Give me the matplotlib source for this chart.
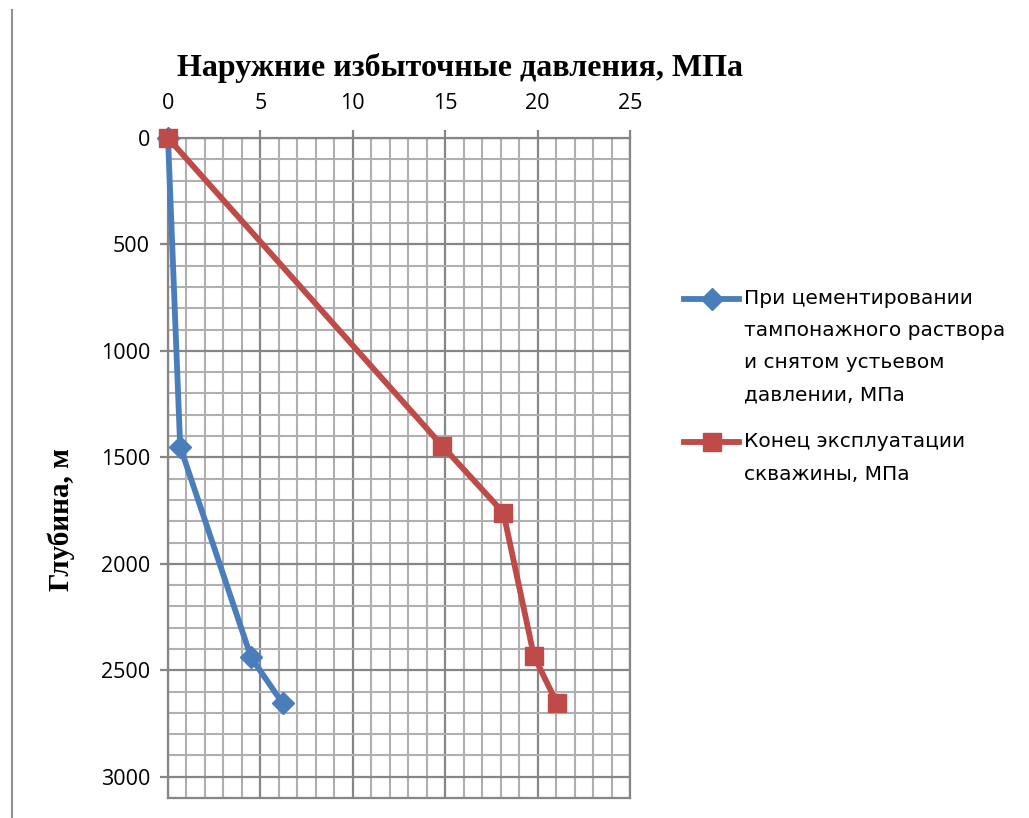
import matplotlib
matplotlib.use("Agg")
import matplotlib.pyplot as plt
from matplotlib.lines import Line2D
from matplotlib.ticker import MultipleLocator

# Data
depth_blue = [0, 1450, 2440, 2655]
press_blue = [0, 0.66, 4.5, 6.2]
depth_red = [0, 1447, 1760, 2433, 2655]
press_red = [0, 14.85, 18.15, 19.8, 21.05]

label_blue = "При цементировании\nтампонажного раствора\nи снятом устьевом\nдавлении, МПа"
label_red = "Конец эксплуатации\nскважины, МПа"
title = "Наружние избыточные давления, МПа"
ylabel = "Глубина, м"

BLUE = "#4a7ebb"
RED = "#be4b48"

fig = plt.figure(figsize=(10.29, 8.18), dpi=100)
ax = fig.add_axes([168 / 1029, 1 - 798 / 818, (630 - 168) / 1029, (798 - 138) / 818])

ax.plot(press_blue, depth_blue, color=BLUE, lw=4.2, marker="D", ms=11,
        label="\n\n\n" + label_blue, zorder=3, solid_joinstyle="round",
        clip_on=False)
ax.plot(press_red, depth_red, color=RED, lw=4.2, marker="s", ms=12.5,
        label="\n" + label_red, zorder=4, solid_joinstyle="round",
        clip_on=False)

ax.set_xlim(0, 25)
ax.set_ylim(3100, 0)
ax.xaxis.set_major_locator(MultipleLocator(5))
ax.xaxis.set_minor_locator(MultipleLocator(1))
ax.yaxis.set_major_locator(MultipleLocator(500))
ax.yaxis.set_minor_locator(MultipleLocator(100))
ax.xaxis.tick_top()
ax.set_yticks([0, 500, 1000, 1500, 2000, 2500, 3000])

ax.grid(which="major", color="#868686", lw=1.6)
ax.grid(which="minor", color="#b0b0b0", lw=1.5)
ax.set_axisbelow(True)

for s in ax.spines.values():
    s.set_color("#868686")
    s.set_linewidth(1.6)

ax.tick_params(which="major", length=6, width=1.6, color="#868686",
               labelsize=15.5, labelcolor="black")
ax.tick_params(which="minor", length=0)
ax.tick_params(axis="x", pad=11)
ax.tick_params(axis="y", pad=7)
for t in ax.get_xticklabels() + ax.get_yticklabels():
    t.set_fontfamily("Open Sans")

fig.text(0.447, 0.917, title, ha="center", va="center",
         fontfamily="Liberation Serif", fontweight="bold", fontsize=23)
fig.text(0.060, 0.365, ylabel, ha="center", va="center", rotation=90,
         fontfamily="Liberation Serif", fontweight="bold", fontsize=21)

leg = ax.legend(loc="upper left", bbox_to_anchor=(684 / 1029, 1 - 192 / 818),
                bbox_transform=fig.transFigure, frameon=False,
                prop={"family": "DejaVu Sans", "size": 14.5},
                handlelength=2.75, handletextpad=0.25, labelspacing=-0.2,
                borderaxespad=0, borderpad=0)
for t in leg.get_texts():
    t.set_linespacing(1.88)

fig.add_artist(Line2D([12 / 1029, 12 / 1029], [0, 1 - 10 / 818],
                      transform=fig.transFigure, color="#909090", lw=1.5))

fig.savefig("out.png", dpi=100)
